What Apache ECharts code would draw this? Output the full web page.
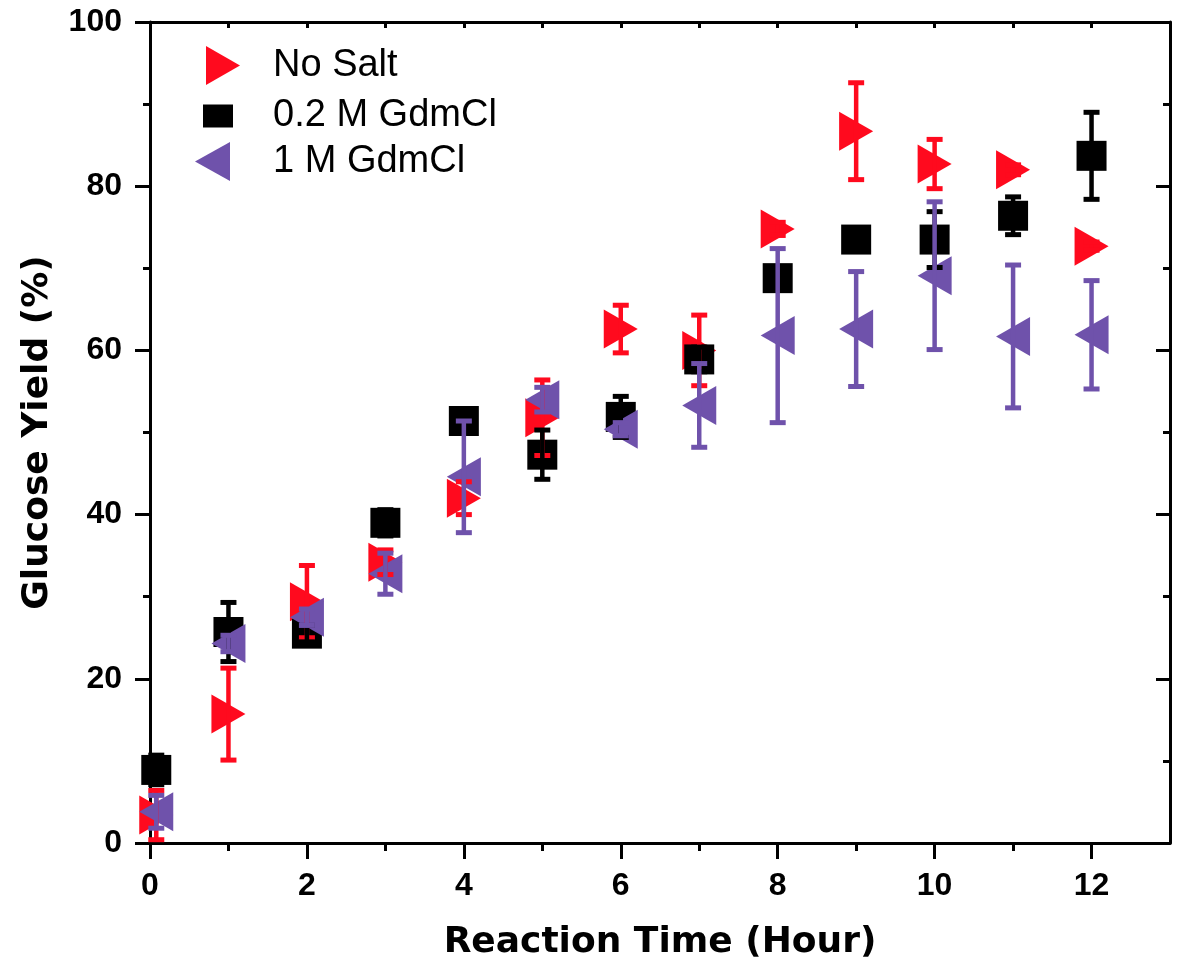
<!DOCTYPE html>
<html>
<head>
<meta charset="utf-8">
<script src="https://cdn.jsdelivr.net/npm/echarts@6/dist/echarts.min.js"></script>
<style>
  html, body { margin: 0; padding: 0; background: #fff; }
  #main { width: 1178px; height: 974px; }
</style>
</head>
<body>
<div id="main"></div>
<script>
// reaction time (hour)
var times = [0.08, 1, 2, 3, 4, 5, 6, 7, 8, 9, 10, 11, 12];

// glucose yield (%) and error (+/-)
var noSalt    = [3.4, 15.7, 29.4, 34.2, 42.0, 51.8, 62.6, 60.0, 74.8, 86.7, 82.7, 82.0, 72.7];
var noSaltErr = [3.0, 5.6, 4.4, 1.5, 2.0, 4.6, 2.9, 4.3, 0.8, 5.9, 3.0, 0.6, 0.5];

var gdm02    = [8.9, 25.7, 25.5, 39.0, 51.4, 47.3, 51.9, 58.9, 68.8, 73.5, 73.5, 76.4, 83.7];
var gdm02Err = [1.8, 3.6, 1.0, 1.6, 0.8, 3.0, 2.5, 1.5, 0.8, 0.6, 3.4, 2.3, 5.3];

var gdm1    = [3.8, 24.3, 27.5, 32.8, 44.6, 54.0, 50.4, 53.3, 61.8, 62.6, 69.1, 61.7, 61.9];
var gdm1Err = [2.0, 1.0, 1.0, 2.5, 6.8, 1.5, 0.8, 5.1, 10.6, 7.0, 9.0, 8.7, 6.6];

var seriesNames = ['No Salt', '0.2 M GdmCl', '1 M GdmCl'];
var colors = ['#FF0A1E', '#000000', '#6F52AB'];

var xMajor = [0, 2, 4, 6, 8, 10, 12];
var xMinor = [1, 3, 5, 7, 9, 11];
var xAll = [0, 1, 2, 3, 4, 5, 6, 7, 8, 9, 10, 11, 12];

function points(ys) {
  return times.map(function (t, i) { return [t, ys[i]]; });
}
function bars(ys, errs) {
  return times.map(function (t, i) { return [t, ys[i] - errs[i], ys[i] + errs[i]]; });
}

function errorBar(color) {
  return function (params, api) {
    var x = api.value(0);
    var lo = api.coord([x, api.value(1)]);
    var hi = api.coord([x, api.value(2)]);
    var half = 8;
    var style = { stroke: color, lineWidth: 4.5 };
    var capStyle = { stroke: color, lineWidth: 5 };
    return {
      type: 'group',
      children: [
        { type: 'line', shape: { x1: lo[0], y1: lo[1], x2: hi[0], y2: hi[1] }, style: style },
        { type: 'line', shape: { x1: hi[0] - half, y1: hi[1], x2: hi[0] + half, y2: hi[1] }, style: capStyle },
        { type: 'line', shape: { x1: lo[0] - half, y1: lo[1], x2: lo[0] + half, y2: lo[1] }, style: capStyle }
      ]
    };
  };
}

var font = 'Liberation Sans, Arial, sans-serif';
var titleFont = 'DejaVu Sans, sans-serif';

// one legend block per entry, so each icon can have its own size
function legendBlock(name, icon, w, h, left, top, gap) {
  return {
    orient: 'vertical',
    left: left,
    top: top,
    padding: 0,
    itemWidth: w,
    itemHeight: h,
    symbolRotate: 0,
    data: [{ name: name, icon: icon }],
    textStyle: { fontFamily: font, fontSize: 38, color: '#000', padding: [0, 0, 0, gap] }
  };
}

var chart = echarts.init(document.getElementById('main'));

var option = {
  backgroundColor: '#fff',
  animation: false,
  grid: { left: 150, right: 8, top: 22, bottom: 131 },
  legend: [
    legendBlock(seriesNames[0], 'path://M0,0L34,19.5L0,39Z', 34, 39, 206, 46, 28),
    legendBlock(seriesNames[1], 'path://M0,0H30V23H0Z', 30, 23, 203, 97, 35),
    legendBlock(seriesNames[2], 'path://M35,0L0,19.5L35,39Z', 35, 39, 195, 142, 38)
  ],
  xAxis: [{
    type: 'value',
    min: 0, max: 13,
    position: 'bottom',
    name: 'Reaction Time (Hour)',
    nameLocation: 'middle',
    nameGap: 82,
    nameTextStyle: { fontFamily: titleFont, fontSize: 36, fontWeight: 'bold', color: '#000' },
    splitLine: { show: false },
    axisLine: { onZero: false, lineStyle: { color: '#000', width: 3 } },
    axisTick: { customValues: xMajor, length: 16, lineStyle: { width: 3, color: '#000' } },
    axisLabel: { customValues: xMajor, margin: 27, fontFamily: font, fontSize: 32, fontWeight: 'bold', color: '#000' }
  }, {
    type: 'value',
    min: 0, max: 13,
    position: 'bottom',
    splitLine: { show: false },
    axisLine: { show: false },
    axisTick: { customValues: xMinor, length: 8, lineStyle: { width: 3, color: '#000' } },
    axisLabel: { show: false }
  }, {
    type: 'value',
    min: 0, max: 13,
    position: 'top',
    splitLine: { show: false },
    axisLine: { onZero: false, lineStyle: { color: '#000', width: 3 } },
    axisTick: { inside: true, customValues: xAll, length: 6, lineStyle: { width: 3, color: '#000' } },
    axisLabel: { show: false }
  }],
  yAxis: [{
    type: 'value',
    min: 0, max: 100, interval: 20,
    position: 'left',
    name: 'Glucose Yield (%)',
    nameLocation: 'middle',
    nameGap: 94,
    nameTextStyle: { fontFamily: titleFont, fontSize: 36, fontWeight: 'bold', color: '#000' },
    splitLine: { show: false },
    axisLine: { show: true, onZero: false, lineStyle: { color: '#000', width: 3 } },
    axisTick: { show: true, length: 15, lineStyle: { width: 3, color: '#000' } },
    minorTick: { show: true, splitNumber: 2, length: 7, lineStyle: { width: 3, color: '#000' } },
    axisLabel: { margin: 28, fontFamily: font, fontSize: 32, fontWeight: 'bold', color: '#000' }
  }, {
    type: 'value',
    min: 0, max: 100, interval: 20,
    position: 'right',
    splitLine: { show: false },
    axisLine: { show: true, onZero: false, lineStyle: { color: '#000', width: 3 } },
    axisTick: { show: true, inside: true, length: 14, lineStyle: { width: 3, color: '#000' } },
    minorTick: { show: true, splitNumber: 2, length: 7, lineStyle: { width: 3, color: '#000' } },
    axisLabel: { show: false }
  }],
  series: [{
    name: seriesNames[0],
    type: 'scatter',
    symbol: 'triangle',
    symbolRotate: -90,
    symbolSize: [39, 34],
    itemStyle: { color: colors[0], opacity: 1 },
    data: points(noSalt),
    z: 2
  }, {
    name: seriesNames[1],
    type: 'scatter',
    symbol: 'rect',
    symbolSize: 30,
    itemStyle: { color: colors[1], opacity: 1 },
    data: points(gdm02),
    z: 3
  }, {
    name: seriesNames[2],
    type: 'scatter',
    symbol: 'triangle',
    symbolRotate: 90,
    symbolSize: [39, 34],
    itemStyle: { color: colors[2], opacity: 1 },
    data: points(gdm1),
    z: 4
  }, {
    type: 'custom',
    renderItem: errorBar(colors[0]),
    data: bars(noSalt, noSaltErr),
    encode: { x: 0, y: [1, 2] },
    z: 5
  }, {
    type: 'custom',
    renderItem: errorBar(colors[1]),
    data: bars(gdm02, gdm02Err),
    encode: { x: 0, y: [1, 2] },
    z: 6
  }, {
    type: 'custom',
    renderItem: errorBar(colors[2]),
    data: bars(gdm1, gdm1Err),
    encode: { x: 0, y: [1, 2] },
    z: 7
  }]
};

chart.setOption(option);
</script>
</body>
</html>
